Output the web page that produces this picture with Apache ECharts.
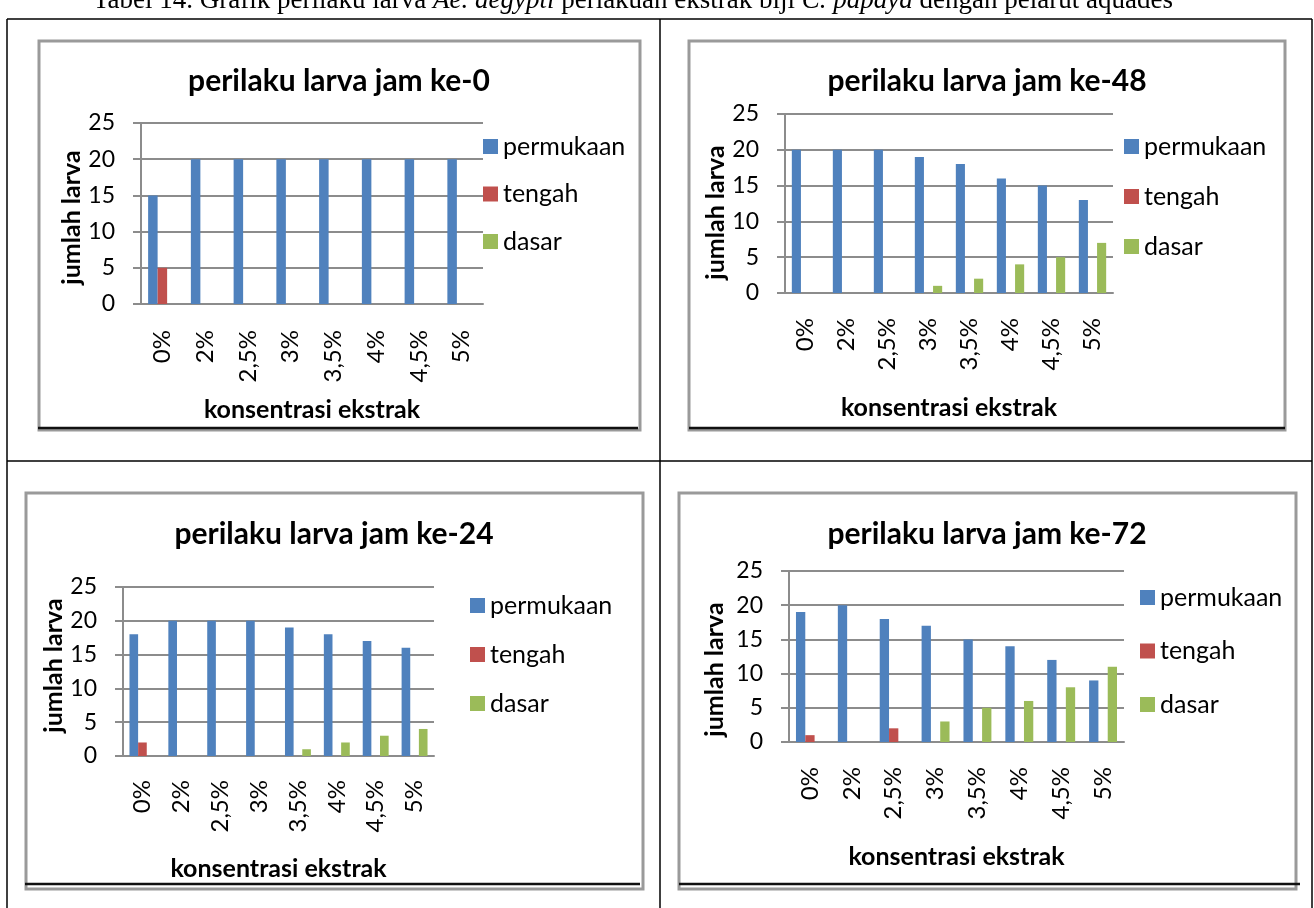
<!DOCTYPE html>
<html>
<head>
<meta charset="utf-8">
<script src="https://cdn.jsdelivr.net/npm/echarts@6/dist/echarts.min.js"></script>
<style>
  html, body { margin: 0; padding: 0; background: #fff; }
  #page { width: 1314px; height: 908px; }
</style>
</head>
<body>
<div id="page"></div>
<script>
// Concentrations of papaya seed extract (x categories)
const categories = ['0%', '2%', '2,5%', '3%', '3,5%', '4%', '4,5%', '5%'];
const seriesNames = ['permukaan', 'tengah', 'dasar'];
const yTickMax = 25;
const yTickStep = 5;

// Hour 0
const title0 = 'perilaku larva jam ke-0';
const permukaan0 = [15, 20, 20, 20, 20, 20, 20, 20];
const tengah0    = [5, 0, 0, 0, 0, 0, 0, 0];
const dasar0     = [0, 0, 0, 0, 0, 0, 0, 0];

// Hour 48
const title48 = 'perilaku larva jam ke-48';
const permukaan48 = [20, 20, 20, 19, 18, 16, 15, 13];
const tengah48    = [0, 0, 0, 0, 0, 0, 0, 0];
const dasar48     = [0, 0, 0, 1, 2, 4, 5, 7];

// Hour 24
const title24 = 'perilaku larva jam ke-24';
const permukaan24 = [18, 20, 20, 20, 19, 18, 17, 16];
const tengah24    = [2, 0, 0, 0, 0, 0, 0, 0];
const dasar24     = [0, 0, 0, 0, 1, 2, 3, 4];

// Hour 72
const title72 = 'perilaku larva jam ke-72';
const permukaan72 = [19, 20, 18, 17, 15, 14, 12, 9];
const tengah72    = [1, 0, 2, 0, 0, 0, 0, 0];
const dasar72     = [0, 0, 0, 3, 5, 6, 8, 11];

const xName = 'konsentrasi ekstrak';
const yName = 'jumlah larva';
const captionParts = [
  ['n', 'Tabel 14. Grafik perilaku larva '],
  ['i', 'Ae. aegypti'],
  ['n', ' perlakuan ekstrak biji '],
  ['i', 'C. papaya'],
  ['n', ' dengan pelarut aquades']
];

// ---- layout of the four panels (table cells) ----
const colors = ['#4F81BD', '#C0504D', '#9BBB59'];
const FONT = 'Lato, "Open Sans", sans-serif';
const GRID_GREY = '#8c8c8c';

// yNameShift: moves the rotated y-axis name along the axis (+ = down)
const panels = [
  { title: title0, data: [permukaan0, tengah0, dasar0],
    frame: [39, 41, 601, 389], rule: [38, 428, 638],
    grid: { left: 141, top: 123, width: 342, height: 181 },
    titleXY: [339, 82], yNameGap: 55, yNameShift: 4, xNameGap: 93, labelMargin: 26,
    legend: { left: 483, top: 133, gap: 20.5 } },
  { title: title48, data: [permukaan48, tengah48, dasar48],
    frame: [689, 41, 596, 389], rule: [689, 428, 1285],
    grid: { left: 785, top: 114, width: 328, height: 179 },
    titleXY: [987, 82], yNameGap: 52, yNameShift: 9, xNameGap: 102, labelMargin: 25,
    legend: { left: 1124, top: 133, gap: 23 } },
  { title: title24, data: [permukaan24, tengah24, dasar24],
    frame: [26, 493, 617, 396], rule: [25, 884, 640],
    grid: { left: 123, top: 587, width: 311, height: 169 },
    titleXY: [334, 535], yNameGap: 51, yNameShift: -6, xNameGap: 100, labelMargin: 24,
    legend: { left: 470, top: 592, gap: 22 } },
  { title: title72, data: [permukaan72, tengah72, dasar72],
    frame: [679, 493, 617, 396], rule: [679, 884, 1300],
    grid: { left: 789, top: 571, width: 335, height: 171 },
    titleXY: [987, 535], yNameGap: 62, yNameShift: 13, xNameGap: 102, labelMargin: 25,
    legend: { left: 1140, top: 584, gap: 26.5 } }
];

const axisNameStyle = { fontFamily: FONT, fontWeight: 'bold', fontSize: 25, color: '#000' };
const yLabelStyle = { fontFamily: FONT, fontSize: 23, color: '#000' };
const xLabelStyle = { fontFamily: FONT, fontSize: 24, color: '#000' };

const series = [];
panels.forEach((p, i) => {
  seriesNames.forEach((name, k) => {
    series.push({
      type: 'bar', name: name, xAxisIndex: i, yAxisIndex: i,
      data: p.data[k], barGap: '0%', barCategoryGap: '33.3%',
      itemStyle: { color: colors[k] }, emphasis: { disabled: true }
    });
  });
});

// table rules, chart frames and caption
const graphic = [];
const tableLines = [
  [7, 19, 1312, 19], [7, 461, 1312, 461],
  [7, 19, 7, 908], [660, 19, 660, 908], [1312, 19, 1312, 908]
];
tableLines.forEach(l => graphic.push({
  type: 'line', shape: { x1: l[0], y1: l[1], x2: l[2], y2: l[3] },
  style: { stroke: '#000', lineWidth: 1.5 }, z: 1
}));
panels.forEach(p => {
  const f = p.frame;
  graphic.push({
    type: 'rect', shape: { x: f[0], y: f[1], width: f[2], height: f[3] },
    style: { fill: null, stroke: '#9a9a9a', lineWidth: 3 }, z: 1
  });
  graphic.push({
    type: 'line', shape: { x1: p.rule[0], y1: p.rule[1], x2: p.rule[2], y2: p.rule[1] },
    style: { stroke: '#111', lineWidth: 2.5 }, z: 2
  });
});
const rich = {
  n: { fontFamily: '"Liberation Serif", serif', fontSize: 27, fill: '#000' },
  i: { fontFamily: '"Liberation Serif", serif', fontSize: 27, fontStyle: 'italic', fill: '#000' }
};
graphic.push({
  type: 'text', x: 93, y: 1, z: 3,
  style: {
    text: captionParts.map(c => '{' + c[0] + '|' + c[1] + '}').join(''),
    rich: rich, verticalAlign: 'middle', fill: '#000'
  }
});

function yNamePadding(shift) {
  // rotated 90°: right padding pushes the centred text down, left padding up
  return shift >= 0 ? [0, 2 * shift, 0, 0] : [0, 0, 0, -2 * shift];
}

const option = {
  animation: false,
  backgroundColor: '#fff',
  color: colors,
  title: panels.map(p => ({
    text: p.title, left: p.titleXY[0], top: p.titleXY[1] - 16,
    textAlign: 'center', padding: 0,
    textStyle: { fontFamily: FONT, fontWeight: 'bold', fontSize: 30, color: '#000' }
  })),
  legend: panels.map(p => ({
    orient: 'vertical', left: p.legend.left, top: p.legend.top, padding: 0,
    itemWidth: 15, itemHeight: 15, itemGap: p.legend.gap, icon: 'rect',
    selectedMode: false, data: seriesNames,
    textStyle: { fontFamily: FONT, fontSize: 25, color: '#000', lineHeight: 27 }
  })),
  grid: panels.map(p => Object.assign({ outerBoundsMode: 'none' }, p.grid)),
  xAxis: panels.map((p, i) => ({
    type: 'category', gridIndex: i, data: categories,
    axisLine: { lineStyle: { color: GRID_GREY, width: 2 } },
    axisTick: { show: false },
    axisLabel: Object.assign({ rotate: 90, margin: p.labelMargin, interval: 0 }, xLabelStyle),
    name: xName, nameLocation: 'middle', nameGap: p.xNameGap,
    nameTextStyle: axisNameStyle
  })),
  yAxis: panels.map((p, i) => ({
    type: 'value', gridIndex: i, min: 0, max: yTickMax, interval: yTickStep,
    axisLine: { show: true, lineStyle: { color: GRID_GREY, width: 2 } },
    axisTick: { show: true, length: 8, lineStyle: { color: GRID_GREY, width: 2 } },
    splitLine: { show: true, lineStyle: { color: GRID_GREY, width: 2 } },
    axisLabel: Object.assign({ margin: 26 }, yLabelStyle),
    name: yName, nameLocation: 'middle', nameGap: p.yNameGap, nameRotate: 90,
    nameTextStyle: Object.assign({ padding: yNamePadding(p.yNameShift) }, axisNameStyle)
  })),
  graphic: graphic,
  series: series
};

const chart = echarts.init(document.getElementById('page'), null, { renderer: 'canvas' });
chart.setOption(option);
</script>
</body>
</html>
